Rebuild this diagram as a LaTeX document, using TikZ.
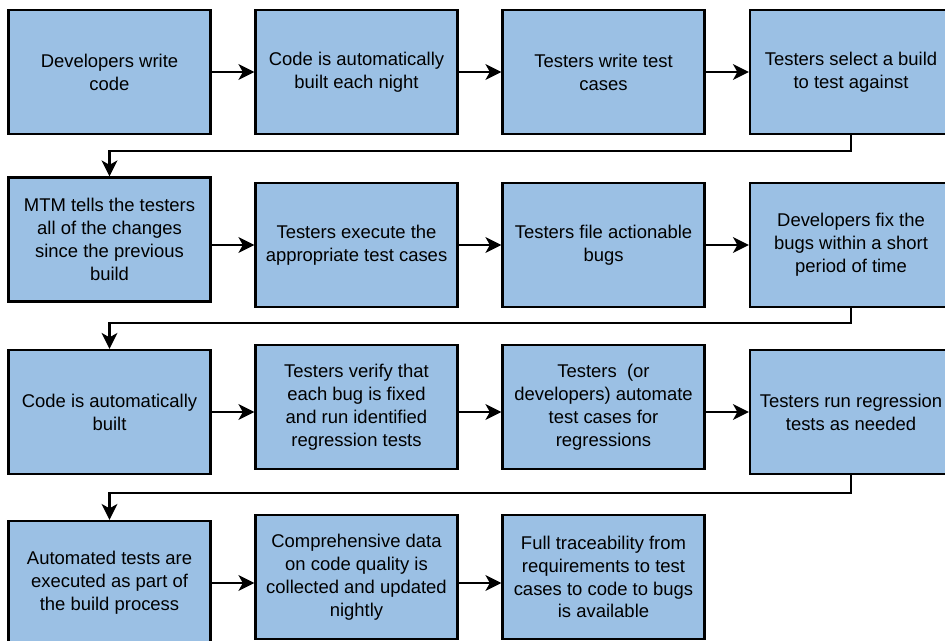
\documentclass[tikz,border=0pt]{standalone}
\usepackage{fontspec}
\setmainfont{Liberation Sans}
\usepackage{tikz}
\usepackage{xcolor}
\usetikzlibrary{arrows.meta}
\definecolor{boxblue}{HTML}{9BC0E4}

\begin{document}
\begin{tikzpicture}[x=0.02cm,y=-0.02cm,
		stepbox/.style={draw,line width=1.4pt,fill=boxblue,minimum width=4.04cm,%
		minimum height=2.48cm,inner sep=0pt,align=center,%
		font=\fontsize{10.5}{13}\selectfont},
		flow/.style={line width=1.3pt,-{Stealth[length=9pt,width=9pt,inset=2.5pt]}}]
			\useasboundingbox (0,0) rectangle (945,641);
			
			\node[stepbox] (s1) at (109.5,72) {Developers write\\code};
			\node[stepbox] (s2) at (356.5,72) {Code is automatically\\built each night};
			\node[stepbox] (s3) at (603.5,72) {Testers write test\\cases};
			\node[stepbox] (s4) at (851,72) {Testers select a build\\to test against};
			
			\node[stepbox] (s5) at (109.5,239.5) {MTM tells the testers\\all of the changes\\since the previous\\build};
			\node[stepbox] (s6) at (356.5,245) {Testers execute the\\appropriate test cases};
			\node[stepbox] (s7) at (603.5,245) {Testers file actionable\\bugs};
			\node[stepbox] (s8) at (851,245) {Developers fix the\\bugs within a short\\period of time};
			
			\node[stepbox] (s9) at (109.5,412) {Code is automatically\\built};
			\node[stepbox] (s10) at (356.5,407) {Testers verify that\\each bug is fixed\\and run identified\\regression tests};
			\node[stepbox] (s11) at (603.5,407) {Testers\ \ (or\\developers) automate\\test cases for\\regressions};
			\node[stepbox] (s12) at (851,412) {Testers run regression\\tests as needed};
			
			\node[stepbox] (s13) at (109.5,583) {Automated tests are\\executed as part of\\the build process};
			\node[stepbox] (s14) at (356.5,577) {Comprehensive data\\on code quality is\\collected and updated\\nightly};
			\node[stepbox] (s15) at (603.5,577) {Full traceability from\\requirements to test\\cases to code to bugs\\is available};
			
			\draw[flow] (s1.east) -- (s2.west);
			\draw[flow] (s2.east) -- (s3.west);
			\draw[flow] (s3.east) -- (s4.west);
			\draw[flow] (s4.south) -- ++(0,16) -| (s5.north);
			
			\draw[flow] (s5.east |- s6.west) -- (s6.west);
			\draw[flow] (s6.east) -- (s7.west);
			\draw[flow] (s7.east) -- (s8.west);
			\draw[flow] (s8.south) -- ++(0,15) -| (s9.north);
			
			\draw[flow] (s9.east) -- (s9.east -| s10.west);
			\draw[flow] (s10.east |- s12.west) -- (s11.west |- s12.west);
			\draw[flow] (s11.east |- s12.west) -- (s12.west);
			\draw[flow] (s12.south) -- ++(0,18) -| (s13.north);
			
			\draw[flow] (s13.east) -- (s13.east -| s14.west);
			\draw[flow] (s14.east |- s13.east) -- (s15.west |- s13.east);
		\end{tikzpicture}
\end{document}
